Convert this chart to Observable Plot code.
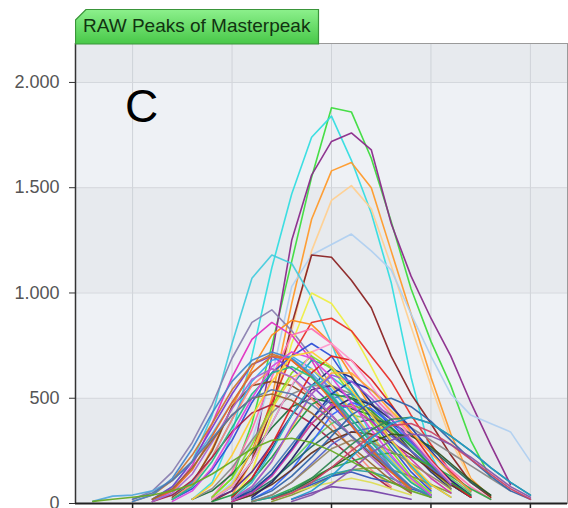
<!DOCTYPE html>
<html><head><meta charset="utf-8">
<script src="https://cdn.jsdelivr.net/npm/d3@7"></script>
<script src="https://cdn.jsdelivr.net/npm/@observablehq/plot@0.6"></script>
<style>
body{margin:0;background:#fff;font-family:"Liberation Sans",Arial,sans-serif;}
#wrap{position:relative;width:568px;height:508px;overflow:hidden;}
#tab{position:absolute;left:75px;top:9px;}
#letter{position:absolute;left:125px;top:83px;font-size:46px;line-height:46px;color:#000;font-family:"Liberation Sans",Arial,sans-serif;}
</style></head>
<body>
<div id="wrap">
  <div id="chart"></div>
  <svg id="tab" width="245" height="36">
    <defs><linearGradient id="g" x1="0" y1="0" x2="0" y2="1">
      <stop offset="0" stop-color="#8cf08c"/><stop offset="1" stop-color="#48c848"/></linearGradient></defs>
    <polygon points="0.5,11 11,0.5 243.5,0.5 243.5,35 0.5,35" fill="url(#g)" stroke="#3a953a" stroke-width="1.2"/>
    <text x="8" y="23" font-size="19" fill="#113311" font-family="Liberation Sans, Arial, sans-serif">RAW Peaks of Masterpeak</text>
  </svg>
  <div id="letter">C</div>
</div>
<script>
const title = "RAW Peaks of Masterpeak";
const panelLabel = "C";
const yTicks = [0, 500, 1000, 1500, 2000];
const xTicks = [100, 200, 300, 400, 500];
const xDomain = [42.6, 537.3];
const yDomain = [0, 2185];
const bandBreaks = [0, 500, 1000, 1500, 2000, 2185];
const xStep = 20;

const peakColors = [
 "#3ddc3d","#33dde0","#8a2a8a","#ff9a2a","#ffd090","#b0d0f0","#8b2323","#44ccdd","#8a80b0","#eeee44",
 "#e8302a","#ff8c1a","#e030c0","#ff70b0","#2d4fd6","#1d2a7a","#1f6e3a","#22a0a0","#8a4a22","#a0a020",
 "#88dd22","#7a3ccc","#3aa8ee","#8a8a8a","#5a2a8a","#4a78b8","#ff8877","#aa2244","#66cc66","#3366ff",
 "#226666","#e8d040","#5566cc","#663322","#33aa44","#889933","#3355bb","#dddd55","#2aa0a0","#7744aa",
 "#55aadd","#cc7733","#222266","#dd2222","#cc33aa","#229944","#33bbcc","#1a3aaa","#335522","#998866",
 "#ff99cc","#ffaa33","#9955dd","#4488cc","#ee6622","#aa66cc","#22bb88","#dd44dd","#996633","#5577aa",
 "#ffcc33","#3366aa","#338855","#cc4466","#2299cc","#8855aa","#66aa22"
];
const peakStarts = [
 180,160,200,200,200,180,180,120,100,200,
 180,140,120,180,140,200,160,180,140,200,
 180,120,120,160,180,200,140,120,200,220,
 200,180,220,200,220,240,240,240,220,260,
 60,100,220,200,200,180,200,200,240,220,
 180,200,200,100,120,120,140,140,120,100,
 160,220,240,240,260,260,60
];
const peakValues = [
 [30,120,380,750,1150,1550,1880,1860,1640,1340,1020,770,560,300,120],
 [20,100,330,700,1120,1470,1740,1840,1630,1380,1050,600,230,60],
 [60,200,700,1250,1560,1720,1760,1680,1330,1080,880,700,480,280,90],
 [40,200,500,950,1350,1580,1620,1500,1200,900,600,330,120,30],
 [30,150,420,820,1200,1440,1510,1400,1130,840,560,300,110],
 [20,100,300,600,1030,1180,1230,1280,1200,1110,900,700,520,420,380,340,200],
 [10,60,200,450,850,1180,1170,1060,930,700,520,380,230,100,30],
 [20,80,200,420,760,1070,1180,1140,980,760,520,320,160,60],
 [20,60,150,290,470,690,860,920,820,700,560,430,300,170,70],
 [20,150,420,760,1000,950,820,650,470,300,160,60],
 [20,80,250,480,700,860,880,820,700,580,420,280,150,60],
 [20,90,260,460,640,800,870,850,760,610,450,300,170,70],
 [10,60,180,380,600,780,860,800,680,520,380,250,130,50],
 [30,150,350,600,800,830,760,640,520,420,330,240,160,80,20],
 [20,70,160,300,480,620,700,760,700,560,400,270,150,60],
 [30,120,260,420,560,640,600,480,360,250,150,70],
 [20,60,140,240,360,460,500,480,450,420,360,280,180,90,30],
 [20,80,200,380,560,680,650,560,420,290,180,90,30],
 [30,100,250,460,560,580,560,500,420,320,230,150,80],
 [20,60,140,260,380,460,470,430,340,250,160,80],
 [30,120,280,460,620,700,640,520,380,250,130,50],
 [20,80,200,360,520,660,700,640,560,470,370,260,160,70],
 [20,40,100,220,400,580,680,700,640,540,430,320,220,120,40],
 [20,70,170,300,430,520,560,560,520,470,420,360,300,240,180,120,60],
 [20,60,150,280,420,540,560,500,420,330,250,170,90,30],
 [20,70,160,280,400,500,520,470,380,280,180,90],
 [20,90,220,400,560,640,600,500,380,260,160,80],
 [10,40,110,220,340,430,470,440,380,300,220,140,70],
 [10,40,100,200,300,380,420,400,350,280,200,120,50],
 [20,70,160,290,420,480,450,380,290,200,110,40],
 [20,50,110,190,270,340,380,400,380,330,260,180,100,40],
 [20,90,250,450,600,640,560,440,320,210,110,40],
 [10,40,100,190,280,340,360,320,250,170,90,30],
 [10,40,90,160,240,300,340,330,290,230,160,90,30],
 [10,30,70,120,170,200,230,240,220,180,130,70,20],
 [10,40,80,130,160,170,160,130,90,50],
 [20,50,90,130,150,120,100,70,40],
 [20,50,80,100,120,100,70,40],
 [10,30,60,100,140,160,150,120,80,40],
 [20,50,80,70,60,40,20],
 [10,35,40,60,110,200,330,480,620,700,690,620,520,400,300,200,100,40],
 [10,40,110,230,380,540,660,710,680,600,500,380,260,150,60],
 [30,100,210,340,450,500,470,400,300,200,110,40],
 [30,120,280,460,620,700,680,590,470,340,210,100,30],
 [10,50,130,250,380,470,460,390,300,210,120,50],
 [10,40,110,220,350,470,520,500,440,360,270,180,100,40],
 [20,100,250,420,560,600,530,420,300,180,80],
 [20,60,140,260,400,520,580,540,460,360,250,140,60],
 [20,60,110,170,230,290,330,320,270,190,110,40],
 [10,40,100,180,260,300,290,250,190,130,70],
 [20,80,200,380,560,720,760,680,560,430,310,200,100],
 [20,80,200,360,520,620,620,540,440,340,240,140,60],
 [20,80,200,370,520,610,580,500,400,300,190,90],
 [10,40,120,260,430,580,680,720,690,610,500,380,270,170,80,30],
 [20,60,160,320,480,620,700,680,600,490,370,250,150,70],
 [10,50,140,290,450,590,640,600,520,420,320,220,130,50],
 [20,80,200,360,520,620,650,600,510,400,290,190,100,40],
 [10,60,170,330,500,650,720,690,600,480,350,230,120,40],
 [20,70,170,300,420,500,520,490,430,350,270,190,110,50],
 [20,50,110,200,310,420,500,540,520,470,400,320,240,160,80,30],
 [20,90,230,410,580,700,720,650,540,420,300,190,90,30],
 [20,60,130,220,320,420,480,500,460,390,300,210,130,60,20],
 [20,60,120,200,280,350,400,410,380,320,250,170,100,40],
 [20,50,100,170,250,320,370,380,340,280,210,140,70,20],
 [20,60,130,220,310,380,410,380,320,250,170,100,40],
 [10,40,90,160,240,300,330,320,280,220,150,80,30],
 [10,20,30,40,60,90,140,200,260,300,310,290,250,200,150,100,60,30]
];

const rows = [];
peakValues.forEach((vals, i) => vals.forEach((v, j) => rows.push({id: i, x: peakStarts[i] + j * xStep, y: v, c: peakColors[i]})));
const bands = bandBreaks.slice(0, -1).map((b, i) => ({y1: b, y2: bandBreaks[i + 1], x1: xDomain[0], x2: xDomain[1], f: i % 2 === 0 ? "#e7eaee" : "#eef1f5"}));
const fmt = d => d3.format(",")(d).replace(/,/g, ".");

const chart = Plot.plot({
  width: 568, height: 508,
  marginTop: 43, marginBottom: 5, marginLeft: 75, marginRight: 1,
  style: {fontFamily: "Liberation Sans, Arial, sans-serif", fontSize: "18px", background: "#fff"},
  x: {domain: xDomain},
  y: {domain: yDomain},
  color: {type: "identity"},
  marks: [
    Plot.rect(bands, {x1: "x1", x2: "x2", y1: "y1", y2: "y2", fill: "f"}),
    Plot.gridX(xTicks, {stroke: "#cfd3d8", strokeOpacity: 1}),
    Plot.gridY(yTicks, {stroke: "#d3d6db", strokeOpacity: 1}),
    Plot.frame({stroke: "#9a9a9a"}),
    Plot.line(rows, {x: "x", y: "y", z: "id", stroke: "c", strokeWidth: 1.6, strokeOpacity: 0.95}),
    Plot.axisY(yTicks, {tickFormat: fmt, tickSize: 6, tickPadding: 10, fill: "#555", stroke: "#333"}),
    Plot.axisX(xTicks, {tickFormat: () => "", tickSize: 6, stroke: "#222", strokeWidth: 1.5}),
    Plot.ruleX([xDomain[0]], {stroke: "#333", strokeWidth: 1.5}),
    Plot.ruleY([0], {stroke: "#222", strokeWidth: 2})
  ]
});
document.getElementById("chart").appendChild(chart);
</script>
</body></html>
